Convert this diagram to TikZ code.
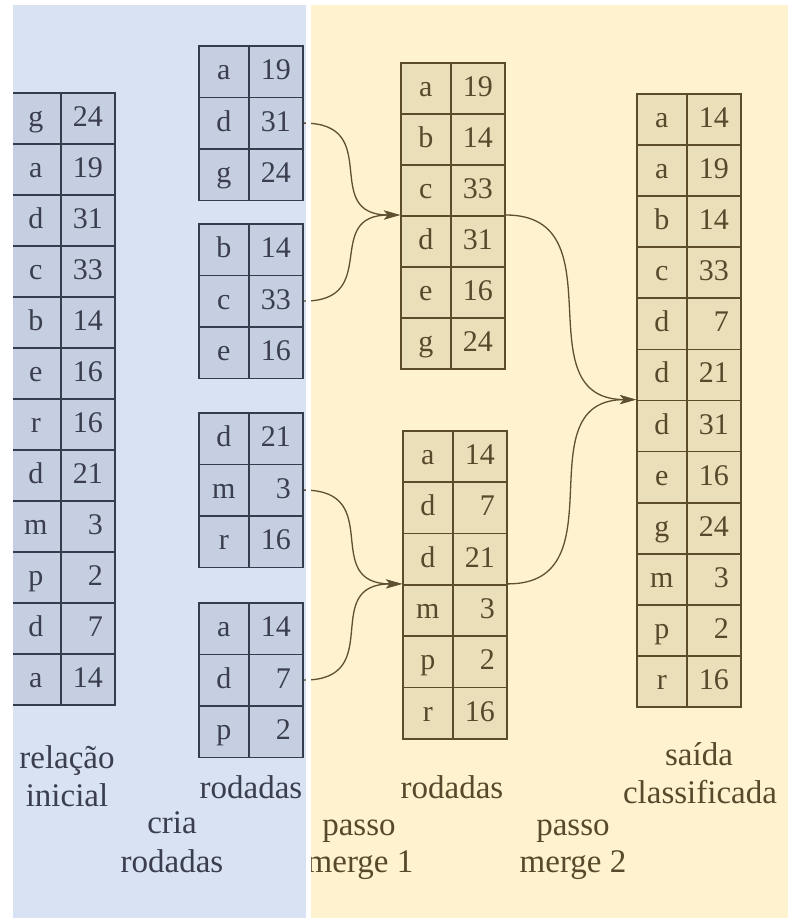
\documentclass[tikz,border=0pt]{standalone}
\usepackage{fontspec}
\setmainfont{Liberation Serif}
\usetikzlibrary{arrows.meta}

\definecolor{bluebg}{RGB}{217,226,242}
\definecolor{bluecell}{RGB}{198,207,225}
\definecolor{blueline}{RGB}{52,60,78}
\definecolor{bluetext}{RGB}{58,62,78}
\definecolor{yelbg}{RGB}{255,242,207}
\definecolor{yelcell}{RGB}{235,223,186}
\definecolor{yelline}{RGB}{92,76,42}
\definecolor{yeltext}{RGB}{88,72,44}
\definecolor{flowcol}{RGB}{95,80,50}

\tikzset{
  cellbase/.style={rectangle, anchor=north west, inner ysep=0pt, line width=1.7pt,
    text height=16pt, text depth=0pt, font=\fontsize{30}{34}\selectfont},
  bcell/.style={cellbase, draw=blueline, fill=bluecell, text=bluetext},
  ycell/.style={cellbase, draw=yelline, fill=yelcell, text=yeltext},
  keycol/.style={minimum width=50pt, inner xsep=0pt},
  valcol/.style={minimum width=54pt, inner xsep=12pt, text width=30pt, align=right},
  lbl/.style={anchor=base, inner sep=0pt, font=\fontsize{33}{38}\selectfont},
  flow/.style={draw=flowcol, line width=1.3pt,
    -{Stealth[length=16pt,width=9pt,inset=4pt]}},
}

% one two-column table: name, cell style, left x, top y, row height, key/value rows
\newcommand\celltable[6]{%
  \foreach \k/\v [count=\i] in {#6} {
    \node[#2, keycol, minimum height=#5pt] (#1k\i) at (#3, {#4+(\i-1)*#5}) {\k};
    \node[#2, valcol, minimum height=#5pt] (#1v\i) at (#3+50, {#4+(\i-1)*#5}) {\v};
  }%
}

\begin{document}
\begin{tikzpicture}[x=1pt,y=-1pt]
\useasboundingbox (0,0) rectangle (788,918);
\fill[white] (0,0) rectangle (788,918);
\fill[bluebg] (13,5) rectangle (306,918);
\fill[yelbg] (311,5) rectangle (788,918);

% initial relation
\celltable{rel}{bcell}{10}{92}{51}{g/24,a/19,d/31,c/33,b/14,e/16,r/16,d/21,m/3,p/2,d/7,a/14}

% runs
\celltable{ra}{bcell}{198}{45}{51.5}{a/19,d/31,g/24}
\celltable{rb}{bcell}{198}{223}{51.5}{b/14,c/33,e/16}
\celltable{rc}{bcell}{198}{412}{51.5}{d/21,m/3,r/16}
\celltable{rd}{bcell}{198}{602}{51.5}{a/14,d/7,p/2}

% runs after merge pass 1
\celltable{ma}{ycell}{400}{62}{51}{a/19,b/14,c/33,d/31,e/16,g/24}
\celltable{mb}{ycell}{402}{430}{51.3}{a/14,d/7,d/21,m/3,p/2,r/16}

% sorted output
\celltable{out}{ycell}{636}{93}{51.1}{a/14,a/19,b/14,c/33,d/7,d/21,d/31,e/16,g/24,m/3,p/2,r/16}

% merge connectors
\draw[flow] (rav2.east) to[out=0,in=180,looseness=1.55] (mak4.north west);
\draw[flow] (rbv2.east) to[out=0,in=180,looseness=1.55] (mak4.north west);
\draw[flow] (rcv2.east) to[out=0,in=180,looseness=1.55] (mbk4.north west);
\draw[flow] (rdv2.east) to[out=0,in=180,looseness=1.55] (mbk4.north west);
\draw[flow] (mav4.north east) to[out=0,in=180,looseness=1.3] (outk7.north west);
\draw[flow] (mbv4.north east) to[out=0,in=180,looseness=1.3] (outk7.north west);

% captions
\node[lbl, text=bluetext] (cap1a) at (67,768) {relação};
\node[lbl, text=bluetext] (cap1b) at (67,806) {inicial};
\node[lbl, text=bluetext] (cap2) at (251,798) {rodadas};
\node[lbl, text=bluetext] (cap3a) at (172,833) {cria};
\node[lbl, text=bluetext] (cap3b) at (172,872) {rodadas};
\node[lbl, text=yeltext] (cap4a) at (359,835) {passo};
\node[lbl, text=yeltext] (cap4b) at (360,872) {merge 1};
\node[lbl, text=yeltext] (cap5) at (452,798) {rodadas};
\node[lbl, text=yeltext] (cap6a) at (573,835) {passo};
\node[lbl, text=yeltext] (cap6b) at (573,872) {merge 2};
\node[lbl, text=yeltext] (cap7a) at (699,765) {saída};
\node[lbl, text=yeltext] (cap7b) at (700,803) {classificada};

% white margins and the gap between the two panels
\fill[white] (0,0) rectangle (13,918);
\fill[white] (0,0) rectangle (788,5);
\fill[white] (306,0) rectangle (311,918);
\end{tikzpicture}
\end{document}
